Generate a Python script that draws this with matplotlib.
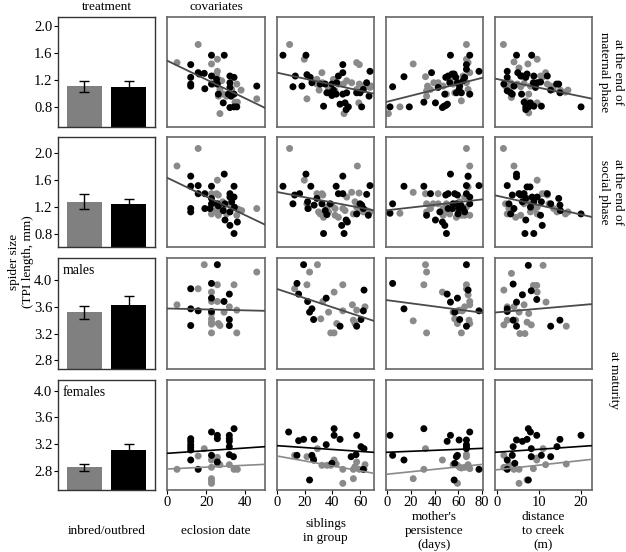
import numpy as np
import matplotlib
matplotlib.use("Agg")
import matplotlib.pyplot as plt

plt.rcParams['font.family'] = ['Liberation Serif', 'DejaVu Serif']
plt.rcParams['font.size'] = 9

GREY = '#8a8a8a'
LINE = '#4a4a4a'
FRAME = '#666666'

# treatment bars: inbred (grey) / outbred (black)
bar_inbred = [1.105, 1.28, 3.515, 2.85]
bar_inbred_err = [0.085, 0.11, 0.10, 0.05]
bar_outbred = [1.10, 1.25, 3.63, 3.11]
bar_outbred_err = [0.085, 0.065, 0.125, 0.09]

row_ylims = [(0.5, 2.14), (0.61, 2.24), (2.67, 4.33), (2.51, 4.16)]
row_ticks = [[0.8, 1.2, 1.6, 2.0], [0.8, 1.2, 1.6, 2.0], [2.8, 3.2, 3.6, 4.0], [2.8, 3.2, 3.6, 4.0]]
row_names = ['at the end of\nmaternal phase', 'at the end of\nsocial phase']
panel_tags = [None, None, 'males', 'females']

col_xlims = [(0, 50), (0, 70), (-1, 81), (-0.4, 22.6)]
col_ticks = [[0, 20, 40], [0, 20, 40, 60], [0, 20, 40, 60, 80], [0, 10, 20]]
col_labels = ['eclosion date', 'siblings\nin group', "mother's\npersistence\n(days)", 'distance\nto creek\n(m)']

# ---- end of maternal phase ----
mat_date_grey = [(5.1, 1.46), (15.9, 1.73), (22.7, 1.44), (25.7, 1.51), (25.7, 1.33), (26.2, 1.21), (23.6, 1.14),
                 (27.0, 1.06), (28.7, 0.99), (26.2, 0.96), (30.4, 0.96), (33.0, 1.06), (35.6, 1.14), (37.8, 1.05),
                 (34.7, 0.87), (35.9, 0.87), (27.0, 0.70), (45.8, 0.92), (25.3, 1.29), (27.9, 1.19)]
mat_date_black = [(12.1, 1.43), (12.1, 1.24), (12.1, 1.14), (12.1, 1.11), (15.9, 1.31), (19.0, 1.30), (19.3, 1.07),
                  (22.7, 1.57), (29.2, 1.57), (22.7, 1.26), (25.7, 1.14), (26.2, 0.99), (28.7, 0.86), (32.1, 1.26),
                  (32.1, 1.16), (34.2, 1.24), (32.1, 1.09), (31.3, 0.99), (32.7, 0.96), (34.2, 0.99), (32.1, 0.79),
                  (34.2, 0.80), (35.6, 0.80), (45.8, 1.11), (22.7, 1.14), (25.3, 1.21), (16.4, 1.29)]
mat_sib_grey = [(9.1, 1.73), (19.7, 1.51), (28.8, 1.21), (32.4, 1.31), (32.8, 1.16), (28.8, 1.14), (21.6, 0.92),
                (40.7, 1.21), (44.3, 1.14), (47.9, 1.14), (50.3, 1.19), (53.9, 1.16), (57.5, 1.46), (59.4, 1.43),
                (59.4, 1.14), (62.3, 1.11), (64.7, 1.14), (67.1, 1.09), (68.3, 1.11), (59.0, 0.86), (48.4, 0.70),
                (41.9, 1.04), (37.2, 1.06), (57.5, 1.06), (30.4, 1.05)]
mat_sib_black = [(4.3, 1.57), (13.2, 1.26), (11.5, 1.10), (20.9, 1.57), (18.0, 1.11), (21.6, 1.28), (24.0, 1.24),
                 (25.2, 1.16), (31.2, 1.14), (34.8, 1.14), (36.0, 1.01), (38.4, 1.01), (39.6, 1.14), (40.7, 1.05),
                 (43.1, 1.16), (44.3, 1.26), (47.5, 1.43), (47.5, 1.31), (42.7, 0.99), (45.5, 0.84), (49.1, 0.86),
                 (51.5, 0.80), (49.9, 0.76), (47.5, 0.99), (50.3, 1.01), (33.6, 0.81), (61.1, 0.80), (59.9, 1.01),
                 (62.3, 1.06), (57.5, 1.01), (66.4, 0.96), (67.1, 1.33), (64.7, 1.16), (39.6, 0.97)]
mat_pers_grey = [(1.0, 0.70), (10.8, 0.80), (22.0, 1.44), (32.4, 1.25), (33.3, 0.96), (34.1, 1.11), (39.4, 1.16),
                 (43.1, 1.16), (47.3, 1.11), (52.9, 1.21), (57.1, 1.01), (59.9, 1.16), (62.7, 0.89), (64.1, 1.26),
                 (67.0, 1.73), (67.0, 1.51), (68.4, 1.46), (69.8, 1.31), (67.0, 1.16), (68.4, 1.06), (69.8, 0.99),
                 (36.6, 1.06), (33.3, 1.04), (50.1, 0.99), (55.7, 1.14)]
mat_pers_black = [(2.4, 0.80), (4.6, 1.10), (14.2, 1.25), (18.7, 0.80), (31.0, 0.87), (37.5, 1.31), (40.8, 0.86),
                  (46.7, 0.79), (48.1, 0.81), (49.5, 0.82), (50.9, 0.84), (48.7, 0.99), (49.5, 1.24), (51.5, 1.26),
                  (53.5, 1.57), (54.9, 1.29), (56.6, 1.29), (58.0, 1.24), (59.4, 1.16), (58.5, 1.01), (52.9, 1.16),
                  (60.8, 1.06), (61.3, 1.11), (64.1, 1.19), (65.5, 1.24), (67.0, 1.36), (67.0, 1.43), (69.8, 1.57),
                  (69.8, 0.99), (77.6, 1.33), (62.7, 1.01), (43.1, 1.09)]
mat_dist_grey = [(1.6, 1.73), (4.1, 1.47), (5.3, 1.38), (7.4, 1.44), (9.6, 1.51), (2.1, 1.11), (2.9, 1.06),
                 (3.5, 0.94), (3.3, 1.16), (4.9, 1.14), (5.7, 1.10), (6.5, 1.15), (7.6, 0.99), (7.6, 0.71),
                 (6.9, 0.89), (9.6, 0.86), (10.4, 1.26), (10.8, 1.24), (11.6, 1.31), (12.0, 1.14), (12.8, 1.11),
                 (13.4, 1.06), (15.1, 1.05), (16.3, 1.02), (16.9, 1.05), (8.0, 1.11)]
mat_dist_black = [(2.5, 1.33), (2.5, 1.24), (1.7, 1.14), (3.3, 1.01), (3.7, 0.99), (4.7, 1.57), (5.0, 1.31),
                  (5.7, 1.26), (6.1, 1.26), (6.9, 1.24), (7.2, 1.29), (8.3, 1.57), (8.8, 1.26), (8.7, 1.16),
                  (9.6, 1.16), (10.4, 1.17), (5.9, 0.99), (6.5, 0.87), (6.9, 0.80), (7.2, 0.84), (8.0, 0.86),
                  (8.8, 0.81), (6.9, 0.76), (7.6, 0.80), (10.6, 0.81), (12.0, 1.26), (12.8, 1.05), (14.2, 1.14),
                  (14.7, 1.14), (15.0, 1.01), (20.0, 0.80), (4.1, 1.11), (2.5, 1.04), (9.2, 1.09)]

# ---- end of social phase ----
soc_date_grey = [(5.1, 1.81), (15.9, 2.07), (25.7, 1.60), (22.7, 1.40), (25.3, 1.40), (26.2, 1.38), (23.6, 1.25),
                 (27.0, 1.25), (28.7, 1.20), (22.7, 1.10), (26.2, 1.08), (27.0, 1.13), (30.4, 1.10), (33.0, 1.23),
                 (34.7, 1.19), (36.4, 1.17), (38.1, 1.15), (45.8, 1.18), (35.6, 1.08), (24.5, 1.15), (28.4, 1.28)]
soc_date_black = [(12.1, 1.66), (12.1, 1.51), (12.1, 1.18), (12.1, 1.13), (15.9, 1.52), (15.9, 1.40), (19.3, 1.40),
                  (19.3, 1.18), (22.7, 1.51), (22.7, 1.33), (22.7, 1.25), (25.7, 1.25), (26.2, 1.22), (29.2, 1.69),
                  (28.7, 1.15), (29.6, 1.01), (32.1, 1.40), (32.1, 1.35), (33.0, 1.28), (32.1, 1.13), (34.2, 1.51),
                  (34.2, 1.35), (34.4, 1.20), (32.1, 0.93), (34.2, 0.81), (35.9, 0.98), (21.9, 1.18), (29.6, 1.25)]
soc_sib_grey = [(9.1, 2.07), (19.7, 1.60), (28.8, 1.40), (32.4, 1.40), (33.1, 1.38), (21.6, 1.25), (22.8, 1.18),
                (30.0, 1.13), (31.2, 1.10), (33.6, 1.05), (36.0, 1.20), (39.6, 1.23), (41.9, 1.18), (41.9, 1.08),
                (44.3, 1.05), (47.5, 1.18), (49.1, 1.15), (50.3, 1.35), (53.9, 1.42), (56.3, 1.28), (57.5, 1.20),
                (59.2, 1.41), (58.0, 1.81), (59.9, 1.15), (62.3, 1.13), (64.7, 1.15), (67.1, 1.13), (37.2, 1.13),
                (55.1, 1.10)]
soc_sib_black = [(4.3, 1.51), (11.5, 1.25), (12.7, 1.38), (16.3, 1.40), (20.9, 1.69), (24.4, 1.51), (22.1, 1.28),
                 (22.3, 1.18), (26.8, 1.23), (32.4, 1.25), (33.6, 0.81), (34.8, 1.15), (38.4, 1.25), (42.7, 1.51),
                 (44.3, 1.40), (47.5, 1.66), (47.5, 1.40), (49.9, 1.01), (50.8, 0.98), (46.7, 0.93), (48.4, 0.81),
                 (59.9, 1.25), (61.1, 1.23), (62.3, 1.18), (64.7, 1.39), (67.1, 1.52), (65.9, 1.08), (57.5, 1.10),
                 (36.0, 1.09), (28.8, 1.33)]
soc_pers_grey = [(10.8, 1.11), (22.0, 1.42), (32.4, 1.40), (33.3, 1.25), (33.3, 1.13), (36.6, 1.18), (38.9, 1.25),
                 (43.1, 1.40), (43.1, 1.25), (47.3, 1.18), (47.3, 1.08), (50.1, 1.25), (52.9, 1.10), (55.7, 1.23),
                 (59.9, 1.13), (61.3, 1.28), (62.7, 1.08), (67.0, 2.07), (69.8, 1.81), (68.4, 1.65), (68.4, 1.50),
                 (65.5, 1.35), (67.0, 1.20), (69.8, 1.08), (65.5, 1.08), (58.5, 1.05), (50.1, 1.13)]
soc_pers_black = [(2.4, 1.11), (4.6, 1.25), (14.2, 1.51), (31.0, 1.51), (33.3, 1.08), (36.6, 1.40), (40.8, 1.01),
                  (46.7, 0.98), (48.7, 0.93), (50.1, 0.81), (49.5, 1.38), (51.5, 1.40), (53.5, 1.69), (57.1, 1.40),
                  (59.4, 1.38), (58.5, 1.25), (55.2, 1.18), (60.8, 1.18), (59.9, 1.10), (62.2, 1.23), (64.1, 1.18),
                  (65.5, 1.13), (67.0, 1.52), (67.0, 1.40), (68.4, 1.66), (69.8, 1.35), (69.8, 1.25), (77.6, 1.52),
                  (55.7, 1.25), (51.5, 1.18), (44.5, 1.13)]
soc_dist_grey = [(1.6, 2.07), (4.1, 1.81), (5.3, 1.40), (6.3, 1.40), (9.6, 1.60), (2.1, 1.25), (2.9, 1.18),
                 (2.5, 1.10), (3.7, 1.15), (4.5, 1.05), (5.7, 1.08), (6.5, 1.25), (7.2, 1.28), (8.0, 1.13),
                 (8.8, 1.18), (9.6, 1.10), (9.6, 1.20), (10.8, 1.40), (11.6, 1.40), (12.0, 1.38), (12.4, 1.25),
                 (13.5, 1.18), (14.3, 1.13), (16.3, 1.10), (16.9, 1.13), (7.2, 1.33), (3.3, 1.20)]
soc_dist_black = [(2.5, 1.52), (4.7, 1.69), (4.7, 1.65), (3.7, 1.38), (2.9, 1.25), (3.3, 1.10), (4.1, 1.18),
                  (5.3, 1.40), (5.7, 1.38), (6.5, 1.40), (7.2, 1.50), (7.9, 1.50), (8.4, 1.35), (8.0, 1.20),
                  (6.9, 1.33), (8.8, 1.28), (9.6, 1.35), (10.6, 1.28), (12.0, 1.40), (12.8, 1.25), (14.7, 1.33),
                  (15.0, 1.23), (15.1, 1.15), (20.0, 1.10), (6.7, 0.81), (8.8, 0.81), (6.9, 1.01), (10.8, 0.93),
                  (10.4, 1.08), (6.1, 1.28)]

# ---- at maturity: males ----
male_date_grey = [(5.1, 3.63), (15.9, 3.87), (19.0, 4.23), (22.7, 3.82), (22.7, 3.68), (22.7, 3.50), (22.7, 3.42),
                  (22.7, 3.37), (22.7, 3.34), (25.7, 3.93), (25.7, 3.68), (26.2, 3.35), (27.0, 3.32), (29.1, 3.52),
                  (31.8, 3.60), (34.2, 3.93), (35.6, 3.55), (22.7, 3.21), (35.6, 3.21), (45.8, 4.12)]
male_date_black = [(12.1, 3.87), (12.1, 3.57), (12.1, 3.32), (15.9, 3.54), (22.7, 3.95), (22.7, 3.73), (22.7, 3.53),
                   (25.7, 4.23), (29.1, 3.68), (31.8, 3.79), (31.8, 3.41), (31.8, 3.32)]
male_sib_grey = [(12.7, 3.87), (21.6, 3.93), (23.5, 4.12), (29.2, 4.23), (33.1, 3.68), (37.2, 3.52), (41.2, 3.82),
                 (47.5, 3.93), (47.5, 3.54), (43.1, 3.35), (38.8, 3.21), (41.2, 3.21), (54.4, 3.63), (55.1, 3.40),
                 (56.3, 3.35), (57.5, 3.55), (63.5, 3.60), (31.6, 3.42)]
male_sib_black = [(14.4, 3.95), (15.6, 3.79), (19.2, 4.23), (22.1, 3.68), (23.5, 3.52), (25.2, 3.57), (26.4, 3.41),
                  (35.5, 3.73), (45.5, 3.31), (57.5, 3.31), (60.6, 3.41), (62.3, 3.54), (62.8, 3.85)]
male_pers_grey = [(32.4, 4.23), (33.3, 4.12), (31.0, 3.93), (22.0, 3.39), (33.3, 3.21), (46.7, 3.82), (55.7, 3.52),
                  (57.1, 3.42), (59.4, 3.35), (61.3, 3.55), (62.7, 3.21), (65.5, 3.60), (67.0, 3.93), (67.0, 3.87),
                  (68.4, 3.78), (69.8, 3.68), (69.8, 3.63), (69.8, 3.35), (69.2, 3.40), (63.6, 3.54), (59.9, 3.54)]
male_pers_black = [(4.6, 3.95), (14.2, 3.57), (50.7, 3.79), (53.5, 3.67), (57.1, 3.52), (59.4, 3.73), (61.3, 3.41),
                   (67.0, 4.23), (67.0, 3.31), (68.4, 3.85), (77.6, 3.54)]
male_dist_grey = [(1.7, 3.85), (3.5, 4.10), (2.5, 3.60), (2.5, 3.40), (1.7, 3.33), (4.1, 3.60), (5.3, 3.52),
                  (6.5, 3.63), (7.6, 3.50), (8.2, 3.33), (7.2, 3.37), (8.7, 3.92), (9.5, 3.92), (9.6, 3.82),
                  (5.5, 3.20), (6.7, 3.20), (11.7, 3.67), (16.5, 3.31), (11.0, 4.22), (4.5, 3.40)]
male_dist_black = [(2.5, 3.57), (2.5, 3.53), (3.9, 3.40), (4.7, 3.67), (3.9, 3.94), (6.1, 3.78), (7.5, 4.22),
                   (8.2, 3.84), (9.5, 3.71), (4.7, 3.31), (12.8, 3.31), (15.0, 3.40)]

# ---- at maturity: females ----
fem_date_grey = [(5.1, 2.82), (15.9, 3.02), (19.0, 3.13), (22.7, 2.96), (22.7, 2.85), (22.7, 2.68), (22.7, 2.65),
                 (22.7, 2.61), (25.7, 3.00), (25.7, 2.90), (27.0, 2.89), (31.8, 2.89), (34.2, 2.82), (35.9, 2.82)]
fem_date_black = [(12.1, 3.28), (12.1, 3.24), (12.1, 3.19), (12.1, 3.15), (12.1, 3.11), (12.1, 2.96), (15.9, 2.82),
                  (22.7, 3.38), (22.7, 3.03), (25.7, 3.33), (25.7, 3.28), (25.7, 2.93), (31.8, 3.33), (31.8, 3.28),
                  (31.8, 3.24), (31.8, 3.16), (31.8, 3.04), (33.9, 3.01), (34.2, 3.43)]
fem_sib_grey = [(12.7, 3.03), (21.6, 3.01), (26.4, 2.98), (29.2, 3.13), (32.4, 2.88), (36.0, 2.88), (38.8, 2.88),
                (41.2, 2.96), (42.7, 2.90), (47.5, 2.82), (55.1, 2.82), (56.3, 2.86), (59.4, 2.82), (62.8, 2.82),
                (63.5, 2.89), (47.5, 2.61), (55.1, 2.68), (57.5, 2.93)]
fem_sib_black = [(8.4, 3.38), (14.4, 3.03), (15.6, 3.25), (19.2, 3.27), (23.5, 2.66), (25.2, 3.03), (26.4, 2.96),
                 (26.8, 3.27), (35.5, 3.19), (39.6, 2.91), (41.2, 3.43), (41.2, 3.33), (45.5, 3.27), (53.5, 3.01),
                 (57.5, 3.33), (57.0, 3.04), (60.6, 3.16), (62.8, 3.13), (62.3, 2.82)]
fem_pers_grey = [(22.0, 2.68), (31.0, 2.82), (32.4, 3.13), (46.7, 2.96), (55.7, 2.89), (59.4, 2.88), (62.7, 2.84),
                 (67.0, 3.04), (67.0, 3.01), (68.4, 2.89), (69.8, 2.83), (65.5, 2.85), (59.4, 2.61), (61.3, 2.85)]
fem_pers_black = [(2.4, 3.33), (4.6, 3.03), (14.2, 2.96), (31.0, 3.43), (50.7, 3.24), (53.5, 3.33), (57.1, 2.91),
                  (58.5, 3.01), (59.4, 3.03), (60.8, 3.26), (67.0, 3.26), (67.0, 3.19), (67.0, 3.16), (67.0, 3.13),
                  (69.8, 3.38), (77.6, 2.82), (56.6, 2.66)]
fem_dist_grey = [(1.7, 3.03), (1.7, 2.85), (2.9, 2.89), (4.1, 2.82), (5.3, 2.82), (5.3, 2.61), (7.2, 2.66),
                 (8.7, 2.83), (9.5, 2.96), (9.5, 2.99), (11.6, 2.89), (11.0, 3.13), (16.5, 2.90)]
fem_dist_black = [(2.5, 2.96), (2.5, 2.82), (3.7, 3.03), (4.3, 2.91), (3.9, 3.16), (4.7, 3.26), (6.1, 3.24),
                  (7.5, 3.43), (8.0, 3.38), (7.2, 3.27), (9.5, 3.33), (8.2, 3.13), (8.2, 3.01), (10.6, 3.03),
                  (12.8, 3.01), (14.3, 3.16), (15.0, 3.27), (20.0, 3.33), (7.5, 2.66)]

# fitted lines (intercept, slope)
mat_fits = [(1.49, -0.0141), (1.31, -0.00447), (0.877, 0.00443), (1.216, -0.0130)]
soc_fits = [(1.637, -0.01392), (1.425, -0.00388), (1.155, 0.00199), (1.370, -0.01396)]
male_fits = [(3.575, -0.0007), (3.867, -0.00683), (3.699, -0.00233), (3.517, 0.00547)]
fem_black_fits = [(3.06, 0.0020), (3.175, -0.00143), (3.076, 0.00073), (3.077, 0.00435)]
fem_grey_fits = [(2.825, 0.0014), (3.02, -0.00371), (2.747, 0.00183), (2.813, 0.00696)]

grey_pts = [[mat_date_grey, mat_sib_grey, mat_pers_grey, mat_dist_grey],
            [soc_date_grey, soc_sib_grey, soc_pers_grey, soc_dist_grey],
            [male_date_grey, male_sib_grey, male_pers_grey, male_dist_grey],
            [fem_date_grey, fem_sib_grey, fem_pers_grey, fem_dist_grey]]
black_pts = [[mat_date_black, mat_sib_black, mat_pers_black, mat_dist_black],
             [soc_date_black, soc_sib_black, soc_pers_black, soc_dist_black],
             [male_date_black, male_sib_black, male_pers_black, male_dist_black],
             [fem_date_black, fem_sib_black, fem_pers_black, fem_dist_black]]

W, H = 626, 552
fig = plt.figure(figsize=(W / 100, H / 100), dpi=100)


def px_axes(x0, x1, y0, y1):
    return fig.add_axes([x0 / W, 1 - y1 / H, (x1 - x0) / W, (y1 - y0) / H])


col_px = [(58, 155), (167, 265), (277, 374), (386, 483), (495, 592)]
row_px = [(17, 127), (137, 247), (258, 369), (380, 490)]

for r in range(4):
    y0, y1 = row_px[r]
    # bar panel
    ax = px_axes(col_px[0][0], col_px[0][1], y0, y1)
    ax.bar([0, 1], [bar_inbred[r], bar_outbred[r]], width=0.8, color=['#808080', 'black'])
    ax.errorbar([0, 1], [bar_inbred[r], bar_outbred[r]], yerr=[bar_inbred_err[r], bar_outbred_err[r]],
                fmt='none', ecolor='black', elinewidth=1, capsize=3.5, capthick=1)
    ax.set_xlim(-0.6, 1.6)
    ax.set_ylim(row_ylims[r])
    ax.set_yticks(row_ticks[r])
    ax.set_yticklabels(['%.1f' % t for t in row_ticks[r]])
    ax.set_xticks([])
    ax.tick_params(axis='y', direction='out', length=3, width=0.8, labelsize=10.5, pad=1)
    for s in ax.spines.values():
        s.set_color('#333333')
        s.set_linewidth(1.0)
    if panel_tags[r]:
        ax.text(0.05, 0.89, panel_tags[r], transform=ax.transAxes, ha='left', va='center', fontsize=10)

    # covariate panels
    for c in range(4):
        ax = px_axes(col_px[c + 1][0], col_px[c + 1][1], y0, y1)
        g = np.array(grey_pts[r][c])
        b = np.array(black_pts[r][c])
        ax.scatter(g[:, 0], g[:, 1], s=25, color=GREY, edgecolors='none', zorder=2)
        ax.scatter(b[:, 0], b[:, 1], s=25, color='black', edgecolors='none', zorder=3)
        ax.set_xlim(col_xlims[c])
        ax.set_ylim(row_ylims[r])
        xs = np.array(col_xlims[c], dtype=float)
        if r < 3:
            fits = [mat_fits, soc_fits, male_fits][r]
            a0, k = fits[c]
            ax.plot(xs, a0 + k * xs, color=LINE, lw=1.3, zorder=4)
        else:
            a0, k = fem_black_fits[c]
            ax.plot(xs, a0 + k * xs, color='black', lw=1.2, zorder=4)
            a0, k = fem_grey_fits[c]
            ax.plot(xs, a0 + k * xs, color=GREY, lw=1.2, zorder=4)
        ax.set_yticks([])
        if r == 3:
            ax.set_xticks(col_ticks[c])
            ax.tick_params(axis='x', direction='out', length=3, width=0.8, labelsize=10.5, pad=1)
        else:
            ax.set_xticks([])
        for s in ax.spines.values():
            s.set_color(FRAME)
            s.set_linewidth(1.2)

# column headers
fig.text((58 + 155) / 2 / W, 1 - 7 / H, 'treatment', ha='center', va='center', fontsize=9.5)
fig.text((167 + 265) / 2 / W, 1 - 7 / H, 'covariates', ha='center', va='center', fontsize=9.5)

# bottom labels
fig.text((58 + 155) / 2 / W, 1 - 531 / H, 'inbred/outbred', ha='center', va='center', fontsize=9.5)
for c in range(4):
    xc = (col_px[c + 1][0] + col_px[c + 1][1]) / 2
    fig.text(xc / W, 1 - 531 / H, col_labels[c], ha='center', va='center', fontsize=9.5,
             linespacing=1.25, multialignment='center')

# row labels on the right
fig.text(611 / W, 1 - 72 / H, row_names[0], rotation=270, ha='center', va='center', fontsize=9.5,
         multialignment='center')
fig.text(611 / W, 1 - 192 / H, row_names[1], rotation=270, ha='center', va='center', fontsize=9.5,
         multialignment='center')
fig.text(614 / W, 1 - 380 / H, 'at maturity', rotation=270, ha='center', va='center', fontsize=9.5)

# y label
fig.text(21 / W, 1 - 262 / H, 'spider size\n(TPI length, mm)', rotation=90, ha='center', va='center',
         fontsize=9.5, multialignment='center')

fig.savefig('out.png', dpi=100)
